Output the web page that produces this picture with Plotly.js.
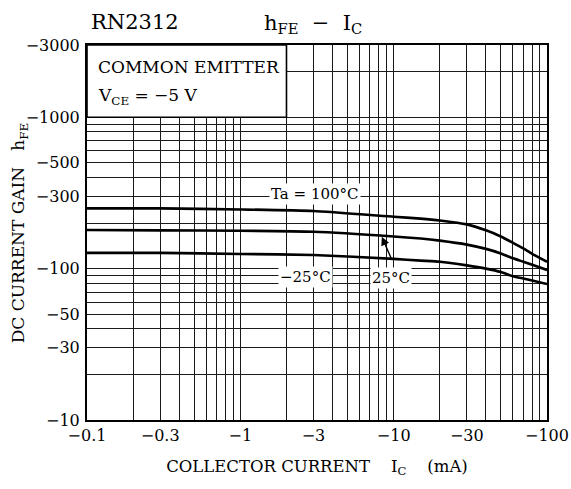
<!DOCTYPE html>
<html><head><meta charset="utf-8">
<script src="https://cdn.plot.ly/plotly-3.0.1.min.js"></script>
<style>html,body{margin:0;padding:0;background:#fff}</style>
</head><body><div id="chart" style="width:571px;height:489px"></div>
<script>
// Collector current |Ic| (mA) and DC current gain |hFE|
const collectorCurrent = [0.1, 0.3, 1, 3, 10, 15, 20, 30, 40, 50, 60, 70, 80, 100];
const hfeTa100 = [250, 250, 246, 240, 220, 214, 208, 196, 179, 163, 148, 136, 125, 111];
const hfeTa25 = [180, 179, 178, 175, 163, 158, 153, 144, 135, 126, 117, 111, 106, 98];
const hfeTaMinus25 = [127, 127, 125, 123, 116, 113, 111, 105, 100, 95, 89, 86, 83.5, 79];
const seriesNames = ["Ta = 100°C", "25°C", "−25°C"];

const xTickVals = [0.1, 0.3, 1, 3, 10, 30, 100];
const xTickText = ["−0.1", "−0.3", "−1", "−3", "−10", "−30", "−100"];
const yTickVals = [10, 30, 50, 100, 300, 500, 1000, 3000];
const yTickText = ["−10", "−30", "−50", "−100", "−300", "−500", "−1000", "−3000"];

function gridValues(lo, hi) {
  const vals = [];
  for (let d = lo; d < hi * 1.0001; d *= 10) {
    for (let m = 1; m <= 9; m++) {
      const v = +(m * d).toPrecision(6);
      if (v <= hi * 1.0001) vals.push(v);
    }
  }
  return vals;
}
const xGrid = gridValues(0.1, 100);
const yGrid = gridValues(10, 3000);

const serif = "DejaVu Serif, Liberation Serif, serif";
const lineStyle = {color: "#000", width: 2.6, shape: "spline", smoothing: 0.5};

const traces = [hfeTa100, hfeTa25, hfeTaMinus25].map((ys, i) => ({
  x: collectorCurrent, y: ys, name: seriesNames[i], mode: "lines",
  line: lineStyle, hoverinfo: "skip"
}));

const L = Math.log10;
const yRange = [L(10), L(3000)];
const xRange = [L(0.1), L(100)];
const gridStyle = {showgrid: true, gridcolor: "#1a1a1a", gridwidth: 1, ticks: ""};

const layout = {
  width: 571, height: 489,
  margin: {l: 87, r: 24, t: 45, b: 69},
  paper_bgcolor: "#fff", plot_bgcolor: "#fff",
  showlegend: false,
  font: {family: serif, color: "#000", size: 16},
  xaxis: Object.assign({
    type: "log", range: xRange,
    tickmode: "array", tickvals: xTickVals, ticktext: xTickText,
    minor: Object.assign({tickmode: "array", tickvals: xGrid}, gridStyle),
    showline: true, mirror: true, linecolor: "#000", linewidth: 2,
    tickfont: {family: serif, size: 16, color: "#000"},
    title: {text: "COLLECTOR CURRENT    I<sub>C</sub>    (mA)", font: {family: serif, size: 16.5, color: "#000"}, standoff: 16}
  }, gridStyle),
  yaxis: Object.assign({
    type: "log", range: yRange,
    tickmode: "array", tickvals: yTickVals, ticktext: yTickText,
    minor: Object.assign({tickmode: "array", tickvals: yGrid}, gridStyle),
    showline: true, mirror: true, linecolor: "#000", linewidth: 2,
    tickfont: {family: serif, size: 16, color: "#000"},
    ticklabelstandoff: 2
  }, gridStyle),
  shapes: [{
    type: "rect", xref: "paper", yref: "paper",
    x0: 0, x1: (L(2) - xRange[0]) / (xRange[1] - xRange[0]),
    y0: (L(1000) - yRange[0]) / (yRange[1] - yRange[0]), y1: 1,
    fillcolor: "#fff", line: {color: "#000", width: 1.6}, layer: "above"
  }],
  annotations: [
    {xref: "paper", yref: "paper", x: 0.004, y: 1.062, xanchor: "left", yanchor: "middle",
     text: "RN2312", showarrow: false, font: {family: serif, size: 21, color: "#000"}},
    {xref: "paper", yref: "paper", x: 0.38, y: 1.056, xanchor: "left", yanchor: "middle",
     text: "h<sub>FE</sub>&nbsp;&nbsp;−&nbsp;&nbsp;I<sub>C</sub>", showarrow: false, font: {family: serif, size: 21, color: "#000"}},
    {xref: "paper", yref: "paper", x: 0.019, y: 0.941, xanchor: "left", yanchor: "middle",
     text: "COMMON EMITTER", showarrow: false, font: {family: serif, size: 17, color: "#000"}},
    {xref: "paper", yref: "paper", x: 0.019, y: 0.864, xanchor: "left", yanchor: "middle",
     text: "V<sub>CE</sub> = −5 V", showarrow: false, font: {family: serif, size: 17, color: "#000"}},
    {xref: "paper", yref: "paper", x: -0.146, y: 0.5, xanchor: "center", yanchor: "middle", textangle: -90,
     text: "DC CURRENT GAIN&nbsp;&nbsp;&nbsp;h<sub>FE</sub>", showarrow: false, font: {family: serif, size: 17, color: "#000"}},
    {xref: "x", yref: "y", x: L(3.07), y: L(311), text: "Ta = 100°C", showarrow: false,
     bgcolor: "#fff", borderpad: 1, font: {family: serif, size: 15, color: "#000"}},
    {xref: "x", yref: "y", x: L(2.68), y: 1.9465, text: "−25°C", showarrow: false,
     bgcolor: "#fff", borderpad: 1, font: {family: serif, size: 15, color: "#000"}},
    {xref: "x", yref: "y", x: L(9.6), y: 1.94, text: "25°C", showarrow: false,
     bgcolor: "#fff", borderpad: 1, font: {family: serif, size: 15, color: "#000"}},
    {xref: "x", yref: "y", x: L(8.37), y: 2.21, ax: 10, ay: 23, text: "", showarrow: true,
     arrowhead: 2, arrowsize: 1.2, arrowwidth: 1.4, arrowcolor: "#000"}
  ]
};

Plotly.newPlot("chart", traces, layout, {staticPlot: true, displayModeBar: false});
</script>
</body></html>
